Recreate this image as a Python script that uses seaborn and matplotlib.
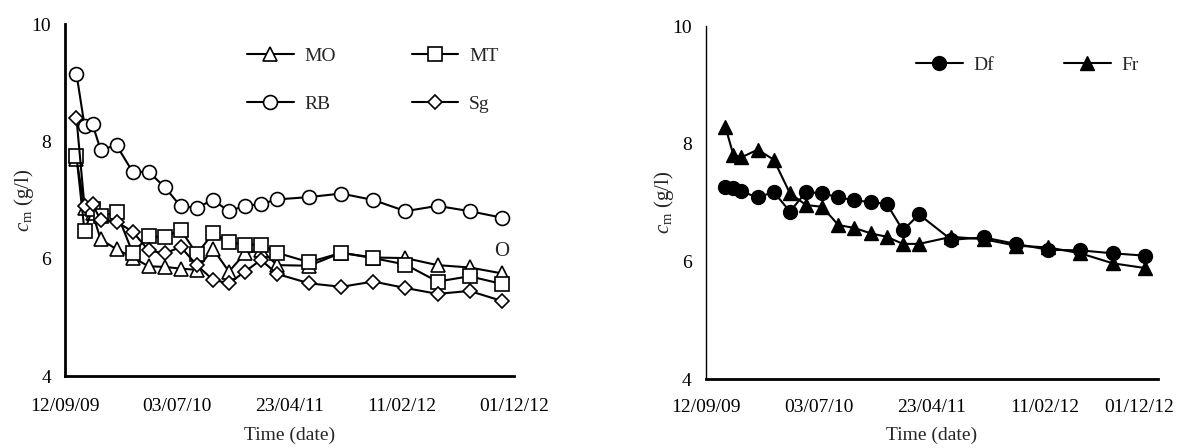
import matplotlib
matplotlib.use('Agg')
import matplotlib.pyplot as plt
import matplotlib.dates as mdates
import matplotlib.transforms as mtransforms
import seaborn as sns
import pandas as pd

sns.set_theme(style='white')
plt.rcParams['font.family'] = ['Liberation Serif', 'DejaVu Serif']
plt.rcParams['mathtext.fontset'] = 'custom'
plt.rcParams['mathtext.rm'] = 'Liberation Serif'
plt.rcParams['mathtext.it'] = 'Liberation Serif:italic'

# ---------------- data ----------------
sample_dates = ['2009-10-12', '2009-11-02', '2009-11-23', '2009-12-14', '2010-01-25',
                '2010-03-08', '2010-04-19', '2010-05-31', '2010-07-12', '2010-08-23',
                '2010-10-04', '2010-11-15', '2010-12-27', '2011-02-07', '2011-03-21',
                '2011-06-13', '2011-09-05', '2011-11-28', '2012-02-20', '2012-05-14',
                '2012-08-06', '2012-10-29']

MO = [7.70, 6.86, 6.78, 6.33, 6.16, 6.02, 5.87, 5.86, 5.83, 5.81, 6.17, 5.78, 6.09, 6.15,
      5.89, 5.88, 6.10, 6.02, 6.01, 5.89, 5.85, 5.75]
MT = [7.75, 6.47, 6.85, 6.73, 6.79, 6.10, 6.38, 6.37, 6.49, 6.08, 6.43, 6.28, 6.24, 6.24,
      6.10, 5.94, 6.10, 6.01, 5.90, 5.61, 5.70, 5.57]
RB = [9.15, 8.27, 8.29, 7.86, 7.93, 7.48, 7.48, 7.22, 6.89, 6.87, 7.00, 6.81, 6.90, 6.93,
      7.01, 7.05, 7.11, 7.00, 6.81, 6.90, 6.81, 6.70]
Sg = [8.39, 6.89, 6.93, 6.66, 6.63, 6.46, 6.14, 6.09, 6.20, 5.89, 5.64, 5.58, 5.78, 5.98,
      5.74, 5.58, 5.52, 5.61, 5.50, 5.40, 5.45, 5.28]
stray_label = 'O'
stray_value = 6.12

right_dates = sample_dates[1:]
Df = [7.26, 7.25, 7.19, 7.09, 7.18, 6.85, 7.18, 7.16, 7.09, 7.04, 7.01, 6.98, 6.53, 6.80,
      6.37, 6.41, 6.30, 6.20, 6.19, 6.14, 6.10]
Fr = [8.29, 7.81, 7.77, 7.90, 7.73, 7.16, 6.96, 6.93, 6.62, 6.57, 6.48, 6.42, 6.30, 6.30,
      6.42, 6.38, 6.27, 6.24, 6.14, 5.97, 5.89]

tick_dates = ['2009-09-12', '2010-07-03', '2011-04-23', '2012-02-11', '2012-12-01']
y_ticks = [4, 6, 8, 10]

# ---------------- figure ----------------
fig = plt.figure(figsize=(11.78, 4.48), dpi=100)
axL = fig.add_axes([0.0552, 0.1607, 0.3814, 0.7857])
axR = fig.add_axes([0.5991, 0.1533, 0.3837, 0.7886])

FS = 14
dL = pd.to_datetime(sample_dates)
dR = pd.to_datetime(right_dates)

open_kw = dict(color='black', linewidth=1.5, markerfacecolor='white',
               markeredgecolor='black', markeredgewidth=1.2)
sns.lineplot(x=dL, y=MO, ax=axL, marker='^', markersize=10, label='MO', **open_kw)
sns.lineplot(x=dL, y=MT, ax=axL, marker='s', markersize=9.5, label='MT', **open_kw)
sns.lineplot(x=dL, y=RB, ax=axL, marker='o', markersize=10, label='RB', **open_kw)
sns.lineplot(x=dL, y=Sg, ax=axL, marker='D', markersize=7, label='Sg', **open_kw)
axL.text(dL[-1], stray_value, stray_label, ha='center', va='center', fontsize=FS + 1)

fill_kw = dict(color='black', linewidth=1.5, markerfacecolor='black',
               markeredgecolor='black', markeredgewidth=1.0)
sns.lineplot(x=dR, y=Df, ax=axR, marker='o', markersize=10, label='Df', **fill_kw)
sns.lineplot(x=dR, y=Fr, ax=axR, marker='^', markersize=10, label='Fr', **fill_kw)

tks = pd.to_datetime(tick_dates)
for ax, yw, xpad in ((axL, 2.0, 12), (axR, 1.0, 10)):
    ax.set_xlim(tks[0], tks[-1])
    ax.set_ylim(4, 10)
    ax.set_xticks(tks)
    ax.xaxis.set_major_formatter(mdates.DateFormatter('%d/%m/%y'))
    ax.set_yticks(y_ticks)
    for s in ('top', 'right'):
        ax.spines[s].set_visible(False)
    ax.spines['left'].set_color('black')
    ax.spines['left'].set_linewidth(yw)
    ax.spines['bottom'].set_color('black')
    ax.spines['bottom'].set_linewidth(2.0)
    ax.tick_params(axis='both', which='major', direction='out', length=4, width=1,
                   color='#555555', labelsize=FS, labelcolor='black', pad=6)
    ax.tick_params(axis='x', pad=xpad)
    ax.set_xlabel('Time (date)', fontsize=FS, labelpad=8)
    ax.set_ylabel(r'$c_{\mathrm{m}}$ (g/l)', fontsize=FS + 1, labelpad=-3)
    ax.grid(False)
    ax.set_facecolor('white')

# keep the last right-panel date label inside the figure (as in the reference)
last = axR.get_xticklabels()[-1]
last.set_transform(last.get_transform() +
                   mtransforms.ScaledTranslation(-19 / 100, 0, fig.dpi_scale_trans))

h, l = axL.get_legend_handles_labels()
order = [l.index(k) for k in ('MO', 'RB', 'MT', 'Sg')]
axL.legend([h[i] for i in order], [l[i] for i in order], ncol=2, frameon=False,
           loc='upper left', bbox_to_anchor=(0.405, 0.935), borderaxespad=0, borderpad=0,
           handlelength=2.4, handletextpad=0.55, columnspacing=3.9, labelspacing=1.6,
           fontsize=FS)

h, l = axR.get_legend_handles_labels()
axR.legend(h, l, ncol=2, frameon=False, loc='upper left', bbox_to_anchor=(0.465, 0.915),
           borderaxespad=0, borderpad=0, handlelength=2.4, handletextpad=0.55,
           columnspacing=3.6, fontsize=FS)

fig.savefig('out.png', dpi=100, facecolor='white')
